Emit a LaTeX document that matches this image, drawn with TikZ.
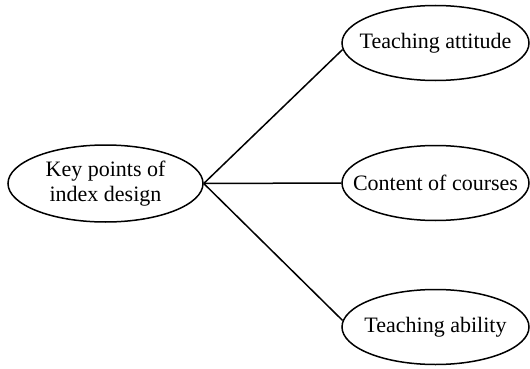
\documentclass[tikz,border=0pt]{standalone}
\usepackage{fontspec}
\setmainfont{Liberation Serif}
\usetikzlibrary{shapes.geometric}
\begin{document}
\begin{tikzpicture}[x=1pt,y=-1pt,
  oval/.style={ellipse,draw=black,line width=1.5pt,inner sep=0pt,
    minimum width=187pt,minimum height=75pt},
  label text/.style={align=center,inner sep=0pt,
    font=\fontsize{22}{25}\selectfont},
  link/.style={draw=black,line width=1.5pt}]
\useasboundingbox (0,0) rectangle (530,369);
\node[oval,minimum width=195pt,minimum height=77pt] (L) at (105.5,183.5) {};
\node[oval] (T) at (435.5,43) {};
\node[oval] (C) at (435.5,183) {};
\node[oval] (A) at (435.5,327) {};
\node[label text] (Lt) at (L) {Key points of\\index design};
\node[label text] (Tt) at (T) {Teaching attitude};
\node[label text] (Ct) at (C) {Content of courses};
\node[label text] (At) at (A) {Teaching ability};
\draw[link] (L.east) -- (T.184);
\draw[link] (L.east) -- (C.west);
\draw[link] (L.east) -- (A.176);
\end{tikzpicture}
\end{document}
